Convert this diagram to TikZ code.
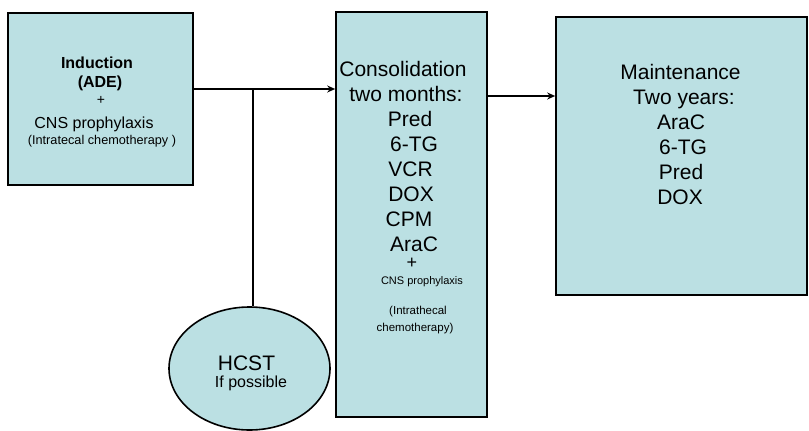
\documentclass[tikz,border=0pt]{standalone}
\usepackage{fontspec}
\setmainfont{Liberation Sans}
\usetikzlibrary{shapes.geometric,arrows.meta}
\definecolor{boxfill}{RGB}{187,224,227}
\newcommand{\fsz}[1]{\fontsize{#1}{#1}\selectfont}
\begin{document}
\begin{tikzpicture}[x=1pt,y=-1pt,
  box/.style={draw=black,line width=1.6pt,fill=boxfill,rectangle,inner sep=0pt},
  oval/.style={draw=black,line width=1.6pt,fill=boxfill,ellipse,inner sep=0pt},
  txt/.style={inner sep=0pt,anchor=base,text=black},
  conn/.style={line width=1.5pt,draw=black},
  arr/.style={conn,-{Stealth[length=8pt,width=7pt]}}]
\useasboundingbox (0,0) rectangle (809,431);
% shapes
\node[box,minimum width=185pt,minimum height=172pt] (ind) at (100.5,99) {};
\node[box,minimum width=151pt,minimum height=405pt] (cons) at (411.5,214.5) {};
\node[box,minimum width=251pt,minimum height=278pt] (maint) at (681.5,156) {};
\node[oval,minimum width=161pt,minimum height=123pt] (hcst) at (249.5,368.5) {};
% connectors
\coordinate (j) at (253,89);
\coordinate (k) at (520,96);
\draw[arr] (ind.east |- j) -- (cons.west |- j);
\draw[conn] (j) -- (j |- hcst.north);
\draw[arr] (cons.east |- k) -- (maint.west |- k);
% induction text
\node[txt,font=\fsz{16}\bfseries] (i1) at (97,68.5) {Induction};
\node[txt,font=\fsz{16}\bfseries] (i2) at (100,87) {(ADE)};
\node[txt,font=\fsz{14}] (i3) at (101,104.5) {+};
\node[txt,font=\fsz{16}] (i4) at (94,128.5) {CNS prophylaxis};
\node[txt,font=\fsz{12.7}] (i5) at (102,144.5) {(Intratecal chemotherapy )};
% consolidation text
\node[txt,font=\fsz{21}] (c1) at (403,76) {Consolidation};
\node[txt,font=\fsz{21}] (c2) at (406,101) {two months:};
\node[txt,font=\fsz{21}] (c3) at (410,126) {Pred};
\node[txt,font=\fsz{21}] (c4) at (414,151) {6-TG};
\node[txt,font=\fsz{21}] (c5) at (410.5,176) {VCR};
\node[txt,font=\fsz{21}] (c6) at (411,201) {DOX};
\node[txt,font=\fsz{21}] (c7) at (409,226) {CPM};
\node[txt,font=\fsz{21}] (c8) at (414,251) {AraC};
\node[txt,font=\fsz{18}] (c9) at (412,268) {+};
\node[txt,font=\fsz{11}] (c10) at (422,284) {CNS prophylaxis};
\node[txt,font=\fsz{11.5}] (c11) at (418,314) {(Intrathecal};
\node[txt,font=\fsz{11.5}] (c12) at (415,331) {chemotherapy)};
% maintenance text
\node[txt,font=\fsz{21}] (m1) at (680.5,79) {Maintenance};
\node[txt,font=\fsz{21}] (m2) at (684,104) {Two years:};
\node[txt,font=\fsz{21}] (m3) at (681,129) {AraC};
\node[txt,font=\fsz{21}] (m4) at (683,154.5) {6-TG};
\node[txt,font=\fsz{21}] (m5) at (681,179) {Pred};
\node[txt,font=\fsz{21}] (m6) at (680,204.5) {DOX};
% hcst text
\node[txt,font=\fsz{21}] (h1) at (246.5,370) {HCST};
\node[txt,font=\fsz{16}] (h2) at (251,387) {If possible};
\end{tikzpicture}
\end{document}
